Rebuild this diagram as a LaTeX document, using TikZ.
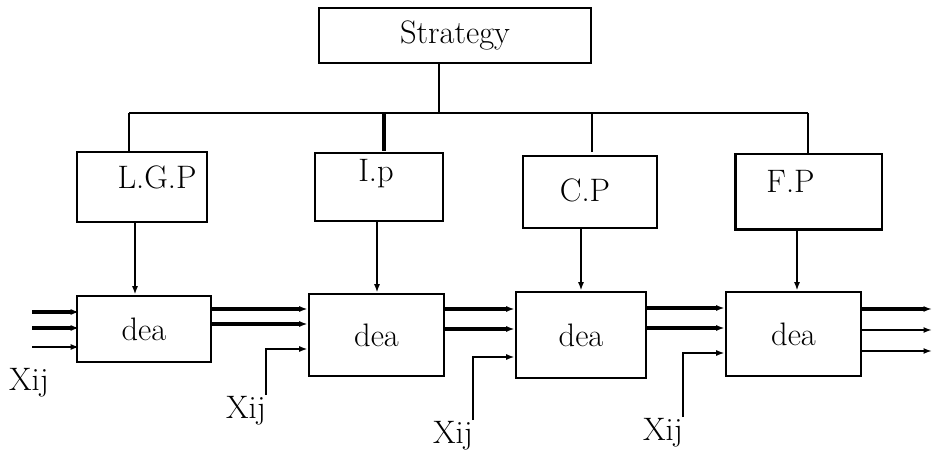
\documentclass[tikz,border=0pt]{standalone}
\usepackage{tikz}
\usetikzlibrary{positioning}
\usetikzlibrary{arrows.meta,calc}

\tikzset{
  blk/.style={draw, line width=1.5pt, inner sep=0pt},
  lbl/.style={inner sep=0pt},
  arr/.style={-{Latex[length=1.7mm,width=1.2mm]}, line width=1.4pt},
  tarr/.style={arr, line width=2pt},
}

\begin{document}
\begin{tikzpicture}[x=0.02cm, y=-0.02cm, font=\fontsize{18.5pt}{22pt}\selectfont, line width=1.4pt]
 \useasboundingbox (0,0) rectangle (932,455);

 %level 1
 \node[blk, minimum width=5.44cm, minimum height=1.1cm] (strat) at (455,35.5) {Strategy};

 %bus
 \coordinate (bs) at (439,113);
 \coordinate (b1) at (129,113);
 \coordinate (b2) at (384,113);
 \coordinate (b3) at (592,113);
 \coordinate (b4) at (808,113);
 \draw (strat.south -| bs) -- (bs);
 \draw (b1) -- (b4);

 %level 2
 \node[blk, minimum width=2.6cm, minimum height=1.4cm,
       label={[lbl, shift={(15,-10)}]center:L.G.P}] (lgp) at (142,187) {};
 \node[blk, minimum width=2.56cm, minimum height=1.36cm,
       label={[lbl, shift={(-3,-13)}]center:I.p}] (ip) at (379,187) {};
 \node[blk, minimum width=2.68cm, minimum height=1.44cm,
       label={[lbl, shift={(-5,-2)}]center:C.P}] (cp) at (590,192) {};
 \node[blk, line width=1.7pt, minimum width=2.94cm, minimum height=1.52cm,
       label={[lbl, shift={(-18,-11)}]center:F.P}] (fp) at (808.5,192) {};

 \draw (b1) -- (b1 |- lgp.north);
 \draw[line width=2.3pt] (b2) -- (384,151);
 \draw (b3) -- (592,152);
 \draw (b4) -- (b4 |- fp.north);

 %level 3
 \node[blk, minimum width=2.68cm, minimum height=1.32cm] (dea1) at (144,329) {dea};
 \node[blk, minimum width=2.7cm, minimum height=1.64cm] (dea2) at (376.5,335) {dea};
 \node[blk, minimum width=2.6cm, minimum height=1.72cm] (dea3) at (581,335) {dea};
 \node[blk, minimum width=2.7cm, minimum height=1.68cm] (dea4) at (793.5,334) {dea};

 %arrows down
 \foreach \up/\dn/\dx in {lgp/dea1/-7, ip/dea2/-2, cp/dea3/-9, fp/dea4/-11.5} {
   \draw[arr] ($(\up.south)+(\dx,0)$) coordinate (t) -- (t |- \dn.north);
 }

 %inputs
 \foreach \y/\w in {312/2pt, 328/2pt, 347/1.4pt} {
   \coordinate (i\y) at (32,\y);
   \draw[arr, line width=\w] (i\y) -- ([xshift=2pt]dea1.west |- i\y);
 }

 %links
 \foreach \a/\b/\y in {dea1/dea2/309, dea1/dea2/324, dea2/dea3/309, dea2/dea3/329, dea3/dea4/308, dea3/dea4/328} {
   \draw[tarr] (\a.east |- 0,\y) -- (\b.west |- 0,\y);
 }

 %Xij
 \node[lbl, anchor=north east] (x1) at (50,367) {Xij};
 \node[lbl, anchor=north east] (x2) at (267,395) {Xij};
 \node[lbl, anchor=north east] (x3) at (474,420) {Xij};
 \node[lbl, anchor=north east] (x4) at (684,417) {Xij};

 \draw[arr, line width=1.6pt] ($(x2.north east)+(-1,0)$) |- (dea2.west |- 0,349);
 \draw[arr, line width=1.6pt] ($(x3.north east)+(-1,0)$) |- (dea3.west |- 0,357);
 \draw[arr, line width=1.6pt] ($(x4.north east)+(-1,0)$) |- (dea4.west |- 0,353);

 %outputs
 \foreach \y/\w in {309/2pt, 330/1.4pt, 351/1.4pt} {
   \coordinate (o\y) at (932,\y);
   \draw[arr, line width=\w] (dea4.east |- o\y) -- (o\y);
 }

\end{tikzpicture}
\end{document}
